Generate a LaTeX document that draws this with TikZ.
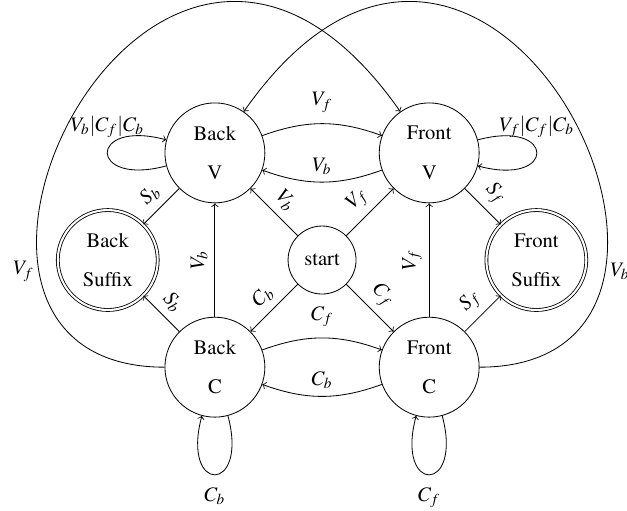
\documentclass[tikz,border=0pt]{standalone}
\usepackage[T1]{fontenc}
\usepackage{mathptmx}
\usetikzlibrary{positioning}

\begin{document}
\begin{tikzpicture}[
  node distance=52pt and 52pt, on grid,
  phase/.style={circle, draw, minimum size=48.5pt, align=center, font=\fontsize{10}{19}\selectfont},
  final/.style={phase, double, double distance=1pt},
  arrow/.style={->},
  wide/.style={out distance=145.6pt, in distance=208.7pt}
]
  \useasboundingbox (-156.3pt,-121.4pt) rectangle (148pt,126.2pt);

  \node[phase, minimum size=33pt] (start) {start};
  \node[phase, above left=of start] (backV) {Back\\V};
  \node[phase, above right=of start] (frontV) {Front\\V};
  \node[phase, below left=of start] (backC) {Back\\C};
  \node[phase, below right=of start] (frontC) {Front\\C};
  \node[final, below left=of backV] (backS) {Back\\Suffix};
  \node[final, below right=of frontV] (frontS) {Front\\Suffix};

  % start state
  \draw[arrow] (start) -- node[sloped, above] {$V_b$} (backV);
  \draw[arrow] (start) -- node[sloped, above] {$V_f$} (frontV);
  \draw[arrow] (start) -- node[sloped, above] {$C_b$} (backC);
  \draw[arrow] (start) -- node[sloped, above] {$C_f$} (frontC);

  % V states
  \draw[arrow] (backV) to[bend left=20] node[above=2pt] {$V_f$} (frontV);
  \draw[arrow] (frontV) to[bend left=20] node[above] {$V_b$} (backV);
  \draw[arrow] (backV) to[loop left] node[above=4pt] {$V_b|C_f|C_b$} ();
  \draw[arrow] (frontV) to[loop right] node[above=4pt] {$V_f|C_f|C_b$} ();
  \draw[arrow] (backV) -- node[sloped, above] {$S_b$} (backS);
  \draw[arrow] (frontV) -- node[sloped, above] {$S_f$} (frontS);

  % C states
  \draw[arrow] (backC) to[bend left=20] node[above=2pt] {$C_f$} (frontC);
  \draw[arrow] (frontC) to[bend left=20] node[above] {$C_b$} (backC);
  \draw[arrow] (backC) to[loop below] node[below=2.5pt] {$C_b$} ();
  \draw[arrow] (frontC) to[loop below] node[below=2.5pt] {$C_f$} ();
  \draw[arrow] (backC) -- node[sloped, above] {$V_b$} (backV);
  \draw[arrow] (frontC) -- node[sloped, above] {$V_f$} (frontV);
  \draw[arrow] (backC) -- node[sloped, above] {$S_b$} (backS);
  \draw[arrow] (frontC) -- node[sloped, above] {$S_f$} (frontS);

  % long way round
  \draw[arrow] (backC) to[out=180, in=125, wide] node[pos=0.26, left, xshift=1pt] {$V_f$} (frontV);
  \draw[arrow] (frontC) to[out=0, in=55, wide] node[pos=0.26, right, xshift=-1pt] {$V_b$} (backV);
\end{tikzpicture}
\end{document}
